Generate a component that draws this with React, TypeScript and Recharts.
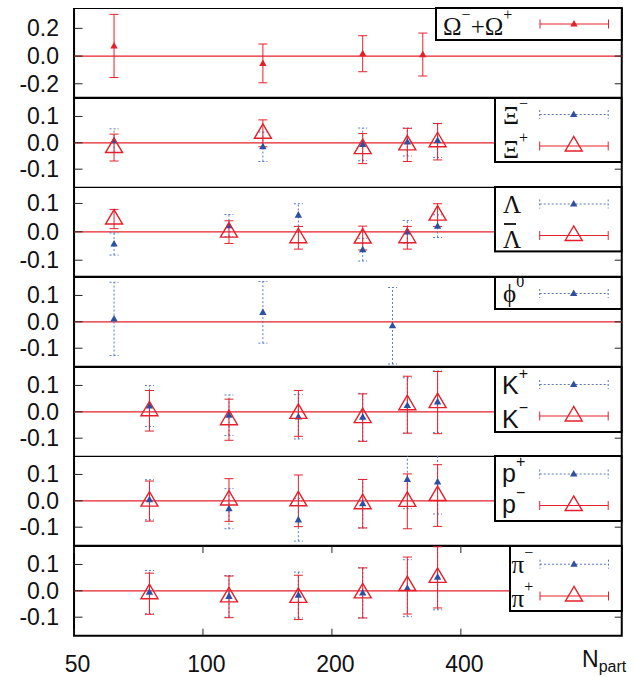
import React from "react";
import { ScatterChart, Scatter, XAxis, YAxis, ErrorBar, ReferenceLine, ReferenceArea } from "recharts";

const RED = "#e5202a";
const BLUE = "#2d50a2";
const BLUE_DOT = "#5a78c6";
const SANS = "'Liberation Sans', Arial, sans-serif";
const SERIF = "'Liberation Serif', 'Times New Roman', serif";

const PLOT_L = 74;
const PLOT_R = 621.8;
const PW = PLOT_R - PLOT_L;
const PANEL_TOP = 8;
const PANEL_H = 89.64;
const X_AXIS_H = 42;

const xDomain = [50, 950];
const xTicks = [50, 100, 200, 400];

// Omega- + Omega+
const omegaN = [62, 138, 236, 326];
const omegaVal = [0.073, -0.053, 0.017, 0.011];
const omegaErr = [0.228, 0.14, 0.13, 0.155];

// Xi
const xiN = [62, 138, 236, 300, 353];
const xiMinusVal = [0.008, -0.015, -0.006, 0.003, 0.009];
const xiMinusErr = [0.045, 0.056, 0.062, 0.053, 0.065];
const xiPlusVal = [-0.018, 0.036, -0.022, -0.008, 0.004];
const xiPlusErr = [0.051, 0.051, 0.057, 0.063, 0.069];

// Lambda
const lambdaN = [62, 115, 167, 236, 300, 353];
const lambdaVal = [-0.043, 0.022, 0.059, -0.063, 0.0, 0.02];
const lambdaErr = [0.039, 0.039, 0.04, 0.04, 0.04, 0.04];
const antiLambdaVal = [0.045, -0.001, -0.021, -0.022, -0.021, 0.059];
const antiLambdaErr = [0.034, 0.04, 0.04, 0.042, 0.04, 0.04];

// phi
const phiN = [62, 138, 277];
const phiVal = [0.011, 0.036, -0.015];
const phiErr = [0.139, 0.117, 0.145];

// K, p, pi
const centN = [75, 115, 167, 236, 300, 353];
const kPlusVal = [0.022, -0.013, -0.019, -0.02, 0.024, 0.038];
const kPlusErr = [0.078, 0.077, 0.084, 0.09, 0.105, 0.117];
const kMinusVal = [0.004, -0.03, -0.006, -0.022, 0.027, 0.035];
const kMinusErr = [0.077, 0.078, 0.087, 0.09, 0.108, 0.118];
const pPlusVal = [0.004, -0.03, -0.072, -0.011, 0.081, 0.072];
const pPlusErr = [0.076, 0.076, 0.081, 0.092, 0.111, 0.122];
const pMinusVal = [-0.001, 0.003, 0.0, -0.011, -0.002, 0.02];
const pMinusErr = [0.076, 0.081, 0.098, 0.092, 0.104, 0.117];
const piMinusVal = [-0.005, -0.021, -0.016, -0.008, 0.01, 0.052];
const piMinusErr = [0.082, 0.079, 0.087, 0.095, 0.108, 0.124];
const piPlusVal = [-0.011, -0.023, -0.025, -0.008, 0.02, 0.051];
const piPlusErr = [0.078, 0.079, 0.084, 0.095, 0.108, 0.116];

const pts = (n: number[], v: number[], e: number[]) => n.map((x, i) => ({ x, y: v[i], err: e[i] }));

type Kind = "blue" | "red" | "omega";
type Series = { kind: Kind; data: { x: number; y: number; err: number }[] };

const smallTri = (color: string) => (p: any) => (
  <polygon
    points={`${p.cx},${p.cy - 4} ${p.cx - 3.7},${p.cy + 2.6} ${p.cx + 3.7},${p.cy + 2.6}`}
    fill={color}
  />
);

const openTri = (p: any) => (
  <polygon
    points={`${p.cx},${p.cy - 9.5} ${p.cx - 8.5},${p.cy + 5} ${p.cx + 8.5},${p.cy + 5}`}
    fill="none"
    stroke={RED}
    strokeWidth={1.4}
  />
);

const YTick = (props: any) => {
  const { x, y, payload } = props;
  const v = payload.value as number;
  const label = (v < 0 ? "-" : "") + Math.abs(v).toFixed(1);
  return (
    <g>
      <line x1={x} x2={x + 8.5} y1={y} y2={y} stroke="#222" strokeWidth={1} />
      <line x1={x + PW - 7} x2={x + PW} y1={y} y2={y} stroke="#222" strokeWidth={1} />
      <text x={x - 15} y={y} textAnchor="end" dominantBaseline="central" fontFamily={SANS} fontSize={23} fill="#111">
        {label}
      </text>
    </g>
  );
};

const XTick = (props: any) => {
  const { x, y, payload } = props;
  return (
    <g>
      <line x1={x} x2={x} y1={y} y2={y - 7} stroke="#222" strokeWidth={1} />
      <line x1={x} x2={x} y1={y - PANEL_H} y2={y - PANEL_H + 7} stroke="#222" strokeWidth={1} />
      <text x={x + 3.5} y={y + 28} textAnchor="middle" dominantBaseline="central" fontFamily={SANS} fontSize={23} fill="#111">
        {payload.value}
      </text>
    </g>
  );
};

function Panel({ index, domain, ticks, series, showX }: { index: number; domain: number[]; ticks: number[]; series: Series[]; showX?: boolean }) {
  const top = PANEL_TOP + index * PANEL_H;
  const h = PANEL_H + (showX ? X_AXIS_H : 0);
  return (
    <div style={{ position: "absolute", left: 0, top, width: 634, height: h }}>
      <ScatterChart width={634} height={h} margin={{ top: 0, right: 634 - PLOT_R, left: 0, bottom: 0 }}>
        <XAxis
          type="number"
          dataKey="x"
          scale="log"
          domain={xDomain}
          allowDataOverflow
          ticks={xTicks}
          interval={0}
          hide={!showX}
          height={showX ? X_AXIS_H : 0}
          tick={XTick}
          tickLine={false}
          axisLine={false}
          tickSize={0}
          tickMargin={0}
        />
        <YAxis
          type="number"
          dataKey="y"
          domain={domain}
          allowDataOverflow
          ticks={ticks}
          interval={0}
          width={PLOT_L}
          tick={YTick}
          tickLine={false}
          axisLine={false}
          tickSize={0}
          tickMargin={0}
        />
        <ReferenceLine y={0} stroke={RED} strokeWidth={1.3} />
        {series.map((s, i) => (
          <Scatter
            key={i}
            data={s.data}
            isAnimationActive={false}
            shape={s.kind === "red" ? openTri : smallTri(s.kind === "blue" ? BLUE : RED)}
          >
            <ErrorBar
              dataKey="err"
              direction="y"
              width={4.5}
              stroke={s.kind === "blue" ? BLUE_DOT : RED}
              strokeWidth={1}
              strokeDasharray={s.kind === "blue" ? "2 2" : undefined}
              isAnimationActive={false}
            />
          </Scatter>
        ))}
        <ReferenceArea
          x1={xDomain[0]}
          x2={xDomain[1]}
          y1={domain[0]}
          y2={domain[1]}
          fill="none"
          fillOpacity={0}
          stroke="#000"
          strokeWidth={2}
          ifOverflow="visible"
        />
      </ScatterChart>
    </div>
  );
}

type Entry = { kind: Kind; textY: number; sampleY: number; font: string; label: React.ReactNode; bar?: boolean };

const SAMPLE_X1 = 540;
const SAMPLE_X2 = 608.5;
const SAMPLE_XM = 574;

function Sample({ kind, y, left }: { kind: Kind; y: number; left: number }) {
  const x1 = SAMPLE_X1 - left;
  const x2 = SAMPLE_X2 - left;
  const xm = SAMPLE_XM - left;
  const color = kind === "blue" ? BLUE_DOT : RED;
  const dash = kind === "blue" ? "2 2" : undefined;
  return (
    <g>
      <line x1={x1} x2={x2} y1={y} y2={y} stroke={color} strokeWidth={1} strokeDasharray={dash} />
      <line x1={x1} x2={x1} y1={y - 4.5} y2={y + 4.5} stroke={color} strokeWidth={1} strokeDasharray={dash} />
      <line x1={x2} x2={x2} y1={y - 4.5} y2={y + 4.5} stroke={color} strokeWidth={1} strokeDasharray={dash} />
      {kind === "red" ? openTri({ cx: xm, cy: y }) : smallTri(kind === "blue" ? BLUE : RED)({ cx: xm, cy: y })}
    </g>
  );
}

function LegendBox({ index, left, height, textX, entries }: { index: number; left: number; height: number; textX: number; entries: Entry[] }) {
  const top = PANEL_TOP + index * PANEL_H;
  const w = PLOT_R - left;
  return (
    <svg style={{ position: "absolute", left, top, overflow: "visible" }} width={w} height={height}>
      <rect x={0} y={0} width={w} height={height} fill="#fff" stroke="#000" strokeWidth={2} />
      {entries.map((e, i) => (
        <g key={i}>
          <text x={textX} y={e.textY} fontFamily={e.font} fontSize={25} fill="#111">
            {e.label}
          </text>
          {e.bar && <line x1={textX + 1} x2={textX + 13} y1={e.textY - 24} y2={e.textY - 24} stroke="#111" strokeWidth={1.8} />}
          <Sample kind={e.kind} y={e.sampleY} left={left} />
        </g>
      ))}
    </svg>
  );
}

const sup = (s: string) => (
  <tspan dy={-15} fontSize={16}>
    {s}
  </tspan>
);
const down = (s: string) => <tspan dy={15}>{s}</tspan>;

export default function App() {
  return (
    <div style={{ position: "absolute", left: 0, top: 0, width: 634, height: 677, background: "#fff" }}>
      <Panel index={0} domain={[-0.3, 0.347]} ticks={[-0.2, 0, 0.2]} series={[{ kind: "omega", data: pts(omegaN, omegaVal, omegaErr) }]} />
      <Panel
        index={1}
        domain={[-0.17, 0.17]}
        ticks={[-0.1, 0, 0.1]}
        series={[
          { kind: "blue", data: pts(xiN, xiMinusVal, xiMinusErr) },
          { kind: "red", data: pts(xiN, xiPlusVal, xiPlusErr) },
        ]}
      />
      <Panel
        index={2}
        domain={[-0.158, 0.158]}
        ticks={[-0.1, 0, 0.1]}
        series={[
          { kind: "blue", data: pts(lambdaN, lambdaVal, lambdaErr) },
          { kind: "red", data: pts(lambdaN, antiLambdaVal, antiLambdaErr) },
        ]}
      />
      <Panel index={3} domain={[-0.17, 0.17]} ticks={[-0.1, 0, 0.1]} series={[{ kind: "blue", data: pts(phiN, phiVal, phiErr) }]} />
      <Panel
        index={4}
        domain={[-0.17, 0.17]}
        ticks={[-0.1, 0, 0.1]}
        series={[
          { kind: "blue", data: pts(centN, kPlusVal, kPlusErr) },
          { kind: "red", data: pts(centN, kMinusVal, kMinusErr) },
        ]}
      />
      <Panel
        index={5}
        domain={[-0.17, 0.17]}
        ticks={[-0.1, 0, 0.1]}
        series={[
          { kind: "blue", data: pts(centN, pPlusVal, pPlusErr) },
          { kind: "red", data: pts(centN, pMinusVal, pMinusErr) },
        ]}
      />
      <Panel
        index={6}
        domain={[-0.17, 0.17]}
        ticks={[-0.1, 0, 0.1]}
        showX
        series={[
          { kind: "blue", data: pts(centN, piMinusVal, piMinusErr) },
          { kind: "red", data: pts(centN, piPlusVal, piPlusErr) },
        ]}
      />

      <LegendBox
        index={0}
        left={436}
        height={32}
        textX={7}
        entries={[
          { kind: "omega", textY: 27, sampleY: 16, font: SERIF, label: <>Ω{sup("−")}{down("+Ω")}{sup("+")}</> },
        ]}
      />
      <LegendBox
        index={1}
        left={495.3}
        height={64}
        textX={8}
        entries={[
          { kind: "blue", textY: 26, sampleY: 16.5, font: SERIF, label: <>Ξ{sup("−")}</> },
          { kind: "red", textY: 60, sampleY: 48, font: SERIF, label: <>Ξ{sup("+")}</> },
        ]}
      />
      <LegendBox
        index={2}
        left={495.3}
        height={64.4}
        textX={8}
        entries={[
          { kind: "blue", textY: 25.5, sampleY: 17, font: SERIF, label: <>Λ</> },
          { kind: "red", textY: 61, sampleY: 48.5, font: SERIF, label: <>Λ</>, bar: true },
        ]}
      />
      <LegendBox
        index={3}
        left={495.3}
        height={32}
        textX={8}
        entries={[{ kind: "blue", textY: 25, sampleY: 16.5, font: SERIF, label: <>ϕ{sup("0")}</> }]}
      />
      <LegendBox
        index={4}
        left={495.3}
        height={65}
        textX={7}
        entries={[
          { kind: "blue", textY: 26.5, sampleY: 17.5, font: SANS, label: <>K{sup("+")}</> },
          { kind: "red", textY: 60.5, sampleY: 49, font: SANS, label: <>K{sup("−")}</> },
        ]}
      />
      <LegendBox
        index={5}
        left={495.3}
        height={65}
        textX={7}
        entries={[
          { kind: "blue", textY: 26, sampleY: 18, font: SANS, label: <>p{sup("+")}</> },
          { kind: "red", textY: 57, sampleY: 49.5, font: SANS, label: <>p{sup("−")}</> },
        ]}
      />
      <LegendBox
        index={6}
        left={510}
        height={65}
        textX={1.5}
        entries={[
          { kind: "blue", textY: 27, sampleY: 18.2, font: SERIF, label: <>π{sup("−")}</> },
          { kind: "red", textY: 61, sampleY: 50, font: SERIF, label: <>π{sup("+")}</> },
        ]}
      />

      <svg style={{ position: "absolute", left: 0, top: 0 }} width={634} height={677}>
        <text x={582} y={667} fontFamily={SANS} fontSize={23} fill="#111">
          N
          <tspan dy={5} fontSize={16}>
            part
          </tspan>
        </text>
      </svg>
    </div>
  );
}
